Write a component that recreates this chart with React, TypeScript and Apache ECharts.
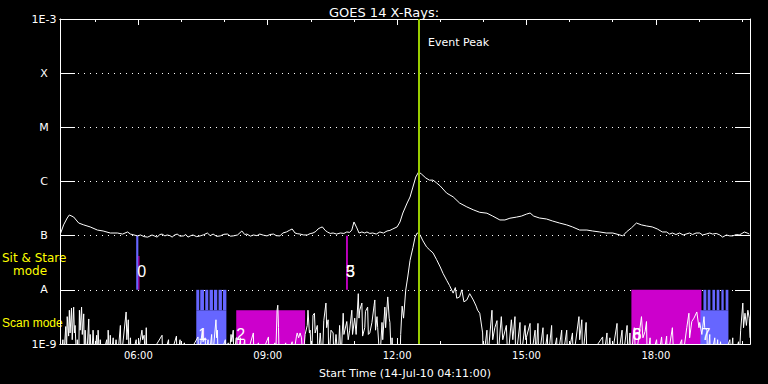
import { useEffect, useRef } from 'react';
import * as echarts from 'echarts';

// time axis in minutes since midnight, 14-Jul-2010
const timeMin = 251; // 04:11
const timeMax = 1211; // 20:11
const majorTicks = [360, 540, 720, 900, 1080];
const hourTicks = [300, 360, 420, 480, 540, 600, 660, 720, 780, 840, 900, 960, 1020, 1080, 1140, 1200];
const yLevelNames = ['1E-9', 'A', 'B', 'C', 'M', 'X', '1E-3'];
const eventPeak = 750; // 12:30

// GOES 14 long channel (1-8 A) [minute, W/m^2]
const longChannel: [number, number][] = [
  [252, 1.12e-7], [256, 1.58e-7], [261, 2.12e-7], [264, 2.41e-7], [270, 2.21e-7], [277, 1.71e-7],
  [284, 1.58e-7], [293, 1.45e-7], [303, 1.27e-7], [311, 1.22e-7], [321, 1.12e-7], [331, 1.12e-7],
  [338, 1.07e-7], [345, 1.17e-7], [349, 1.07e-7], [359, 9.9e-8], [363, 1.03e-7], [368, 9.6e-8],
  [373, 9.4e-8], [379, 1.03e-7], [383, 9.8e-8], [386, 9.4e-8], [390, 1.05e-7], [393, 1.07e-7],
  [397, 9.9e-8], [400, 1.03e-7], [404, 1.0e-7], [407, 9.4e-8], [410, 1.02e-7], [414, 1.07e-7],
  [418, 9.8e-8], [423, 9.9e-8], [426, 1.05e-7], [429, 9.4e-8], [433, 1.0e-7], [436, 1.03e-7],
  [441, 9.6e-8], [446, 9.9e-8], [451, 1.04e-7], [456, 1.12e-7], [460, 1.0e-7], [464, 1.07e-7],
  [469, 9.7e-8], [474, 9.9e-8], [479, 1.06e-7], [484, 1.07e-7], [488, 9.8e-8], [492, 9.9e-8],
  [498, 1.03e-7], [504, 1.22e-7], [508, 1.05e-7], [511, 1.07e-7], [516, 9.8e-8], [520, 1.03e-7],
  [525, 1.0e-7], [529, 1.07e-7], [534, 1.02e-7], [539, 9.9e-8], [543, 1.05e-7], [548, 1.07e-7],
  [552, 1.0e-7], [557, 9.9e-8], [561, 1.12e-7], [566, 1.17e-7], [570, 1.25e-7], [574, 1.33e-7],
  [578, 1.12e-7], [581, 1.09e-7], [585, 1.07e-7], [590, 1.03e-7], [595, 1.03e-7], [599, 1.09e-7],
  [603, 1.12e-7], [607, 1.2e-7], [610, 1.33e-7], [613, 1.4e-7], [616, 1.45e-7], [620, 1.25e-7],
  [623, 1.17e-7], [627, 1.1e-7], [631, 1.12e-7], [636, 1.07e-7], [641, 1.12e-7], [646, 1.1e-7],
  [650, 1.17e-7], [654, 1.15e-7], [657, 1.27e-7], [660, 1.79e-7], [664, 1.39e-7], [667, 1.12e-7],
  [671, 1.17e-7], [675, 1.12e-7], [678, 1.17e-7], [682, 1.1e-7], [686, 1.12e-7], [691, 1.07e-7],
  [696, 1.17e-7], [701, 1.12e-7], [706, 1.22e-7], [710, 1.25e-7], [714, 1.33e-7], [720, 1.45e-7],
  [724, 1.79e-7], [728, 2.62e-7], [734, 4.01e-7], [738, 5.17e-7], [742, 7.9e-7], [746, 1.21e-6],
  [750, 1.5e-6], [754, 1.37e-6], [760, 1.16e-6], [765, 1.06e-6], [770, 1.06e-6], [775, 9.4e-7],
  [780, 8.26e-7], [789, 6.1e-7], [798, 5.2e-7], [807, 4.0e-7], [817, 3.4e-7], [826, 3.0e-7],
  [835, 2.7e-7], [845, 2.6e-7], [853, 2.3e-7], [863, 1.95e-7], [870, 1.95e-7], [877, 2.1e-7],
  [886, 2.2e-7], [893, 2.3e-7], [900, 2.5e-7], [905, 2.62e-7], [910, 2.3e-7], [918, 2.12e-7],
  [928, 2.03e-7], [936, 1.87e-7], [946, 1.71e-7], [956, 1.58e-7], [964, 1.45e-7], [974, 1.27e-7],
  [984, 1.27e-7], [992, 1.22e-7], [1002, 1.17e-7], [1011, 1.12e-7], [1020, 1.12e-7], [1030, 1.03e-7],
  [1034, 9.9e-8], [1039, 1.17e-7], [1046, 1.39e-7], [1053, 1.71e-7], [1060, 1.58e-7], [1067, 1.51e-7],
  [1075, 1.45e-7], [1082, 1.33e-7], [1089, 1.17e-7], [1095, 1.17e-7], [1099, 1.07e-7], [1103, 1.12e-7],
  [1108, 1.05e-7], [1113, 1.12e-7], [1118, 1.03e-7], [1122, 1.07e-7], [1127, 1.12e-7], [1131, 1.05e-7],
  [1136, 1.12e-7], [1141, 1.12e-7], [1145, 1.03e-7], [1150, 1.07e-7], [1155, 1.12e-7], [1159, 1.07e-7],
  [1164, 1.1e-7], [1169, 1.03e-7], [1173, 9.4e-8], [1178, 1.03e-7], [1183, 9.9e-8], [1187, 9.9e-8],
  [1192, 1.05e-7], [1196, 1.03e-7], [1200, 1.1e-7], [1203, 1.17e-7], [1207, 1.12e-7], [1210, 1.07e-7],
];

// GOES 14 short channel (0.5-4 A) [minute, W/m^2]
const shortChannel: [number, number][] = [
  [252, 5e-10], [255, 1.2e-9], [256, 5e-10], [259, 2.1e-9], [260, 6e-10], [261, 3.2e-9], [263, 1.4e-9],
  [264, 4.2e-9], [265, 1.6e-9], [267, 4.6e-9], [268, 1.2e-9], [270, 4.8e-9], [271, 1.6e-9], [272, 2.2e-9],
  [274, 5e-10], [275, 1.2e-9], [277, 5e-10], [278, 4.2e-9], [279, 1.8e-9], [281, 4.8e-9], [282, 1.5e-9],
  [284, 3.6e-9], [285, 5e-10], [286, 1.8e-9], [288, 5e-10], [291, 2.9e-9], [292, 5e-10], [293, 1.5e-9],
  [295, 5e-10], [297, 1.8e-9], [299, 5e-10], [302, 1.45e-9], [303, 5e-10], [304, 1.8e-9], [306, 5e-10],
  [307, 1.2e-9], [309, 5e-10], [316, 1.2e-9], [317, 5e-10], [318, 1.8e-9], [320, 5e-10], [321, 1.45e-9],
  [322, 5e-10], [325, 1.3e-9], [326, 5e-10], [329, 1.2e-9], [331, 5e-10], [335, 2.2e-9], [336, 5e-10],
  [343, 3.9e-9], [344, 1.2e-9], [346, 2.8e-9], [347, 5e-10], [349, 1.3e-9], [350, 5e-10], [357, 1.2e-9],
  [358, 5e-10], [365, 1.8e-9], [366, 1.2e-9], [368, 1.45e-9], [370, 5e-10], [371, 2e-9], [372, 5e-10],
  [393, 1.45e-9], [394, 5e-10], [402, 1.2e-9], [403, 5e-10], [413, 1.4e-9], [414, 5e-10], [418, 1.2e-9],
  [419, 5e-10], [424, 1.05e-9], [425, 5e-10], [443, 1.35e-9], [444, 5e-10], [449, 1.8e-9], [450, 1.1e-9],
  [453, 1.3e-9], [454, 5e-10], [457, 1.2e-9], [458, 5e-10], [462, 1.5e-9], [463, 5e-10], [468, 2.8e-9],
  [469, 1.3e-9], [470, 1.8e-9], [471, 5e-10], [481, 1.2e-9], [482, 5e-10], [485, 1.05e-9], [486, 5e-10],
  [489, 1.5e-9], [490, 1.1e-9], [492, 1.8e-9], [493, 5e-10], [496, 1.3e-9], [497, 1.3e-9], [498, 5e-10],
  [502, 1.3e-9], [503, 5e-10], [508, 1.2e-9], [509, 5e-10], [520, 1.6e-9], [521, 5e-10], [527, 1.05e-9],
  [528, 5e-10], [541, 1.35e-9], [542, 5e-10], [550, 1.05e-9], [551, 5e-10], [553, 4.2e-9], [554, 5.2e-9],
  [555, 2e-9], [556, 5e-10], [565, 1.05e-9], [566, 5e-10], [574, 1.1e-9], [575, 5e-10], [580, 1.4e-9],
  [581, 1.6e-9], [583, 1.3e-9], [585, 1.6e-9], [587, 1.3e-9], [589, 5e-10], [592, 1.5e-9], [595, 2.2e-9],
  [596, 4.2e-9], [598, 1.6e-9], [599, 1.8e-9], [601, 5e-10], [603, 3.4e-9], [605, 3.7e-9], [606, 1.6e-9],
  [609, 2.2e-9], [610, 5e-10], [613, 1.6e-9], [616, 5e-10], [618, 2.7e-9], [621, 5.7e-9], [622, 2e-9],
  [624, 2.8e-9], [625, 5e-10], [628, 1.8e-9], [631, 1.6e-9], [632, 5e-10], [635, 1.5e-9], [638, 5e-10],
  [640, 2.2e-9], [642, 5e-10], [645, 3.7e-9], [646, 1.5e-9], [650, 2.6e-9], [652, 1.2e-9], [654, 1.8e-9],
  [657, 4.2e-9], [658, 1.5e-9], [661, 3e-9], [663, 1.5e-9], [666, 8.5e-9], [667, 3e-9], [668, 4.2e-9],
  [671, 5.7e-9], [672, 1.4e-9], [675, 2e-9], [676, 4e-9], [679, 4.8e-9], [680, 1.5e-9], [682, 1.6e-9],
  [685, 2.5e-9], [688, 5.2e-9], [689, 6.5e-9], [690, 1.8e-9], [692, 3.2e-9], [693, 2e-9], [696, 5e-10],
  [699, 2.5e-9], [700, 1.2e-9], [703, 4.8e-9], [704, 2e-9], [707, 7.4e-9], [709, 3e-9], [710, 2.5e-9],
  [712, 5e-10], [713, 1.3e-9], [714, 5e-10], [724, 5e-10], [725, 1.5e-9], [727, 5e-9], [729, 3e-9],
  [732, 9.9e-9], [735, 1.8e-8], [738, 3.5e-8], [742, 6e-8], [745, 9.4e-8], [748, 1.12e-7], [750, 1.1e-7],
  [752, 1.03e-7], [756, 8e-8], [761, 6.2e-8], [765, 5.5e-8], [770, 4.8e-8], [775, 3.6e-8], [780, 2.64e-8],
  [784, 2e-8], [789, 1.5e-8], [793, 1.2e-8], [798, 8.7e-9], [801, 1.1e-8], [803, 7e-9], [807, 7.4e-9],
  [810, 1e-8], [813, 6e-9], [817, 6.5e-9], [821, 8.5e-9], [826, 6.5e-9], [830, 5e-9], [832, 4.2e-9],
  [835, 3.7e-9], [839, 1.6e-9], [840, 5e-10], [845, 1.8e-9], [846, 5e-10], [852, 4.2e-9], [853, 1.2e-9],
  [856, 2e-9], [859, 2.7e-9], [860, 5e-10], [865, 3.2e-9], [867, 1.2e-9], [872, 2.2e-9], [874, 5e-10],
  [879, 2.8e-9], [881, 1.2e-9], [884, 3.2e-9], [885, 5e-10], [891, 2.5e-9], [892, 5e-10], [898, 2.2e-9],
  [899, 1.2e-9], [905, 2.4e-9], [906, 5e-10], [912, 1.8e-9], [913, 5e-10], [916, 2.4e-9], [917, 5e-10],
  [923, 2e-9], [924, 5e-10], [929, 1.5e-9], [930, 5e-10], [935, 2.2e-9], [936, 5e-10], [942, 1.3e-9],
  [943, 5e-10], [949, 1.8e-9], [950, 5e-10], [956, 1.8e-9], [957, 5e-10], [964, 1.6e-9], [965, 5e-10],
  [973, 3.2e-9], [974, 1.2e-9], [977, 2.8e-9], [978, 5e-10], [983, 2.5e-9], [984, 5e-10], [1006, 1.35e-9],
  [1007, 5e-10], [1012, 1.6e-9], [1013, 5e-10], [1016, 1.3e-9], [1018, 5e-10], [1026, 2.4e-9], [1027, 5e-10],
  [1033, 1.8e-9], [1034, 5e-10], [1040, 2.2e-9], [1041, 5e-10], [1044, 1.6e-9], [1045, 5e-10], [1050, 2e-9],
  [1052, 5e-10], [1060, 3.2e-9], [1062, 1.3e-9], [1065, 1.7e-9], [1067, 2.6e-9], [1068, 5e-10], [1072, 1.3e-9],
  [1073, 5e-10], [1081, 1.2e-9], [1083, 5e-10], [1088, 1.35e-9], [1090, 5e-10], [1095, 1.4e-9], [1096, 5e-10],
  [1103, 2e-9], [1105, 5e-10], [1116, 1.2e-9], [1117, 5e-10], [1123, 2e-9], [1126, 3.7e-9], [1127, 1.3e-9],
  [1130, 2.6e-9], [1133, 3e-9], [1137, 3.9e-9], [1140, 2e-9], [1141, 2.5e-9], [1144, 1.5e-9], [1147, 3.2e-9],
  [1148, 2e-9], [1151, 1.8e-9], [1152, 5e-10], [1155, 1.5e-9], [1156, 5e-10], [1162, 1.3e-9], [1163, 5e-10],
  [1166, 1.2e-9], [1167, 5e-10], [1170, 1.1e-9], [1172, 5e-10], [1183, 1.2e-9], [1184, 5e-10], [1187, 1.3e-9],
  [1188, 5e-10], [1195, 1.1e-9], [1196, 5e-10], [1198, 1.8e-9], [1201, 5.7e-9], [1202, 2e-9], [1204, 3.7e-9],
  [1206, 2.2e-9], [1208, 4.2e-9], [1210, 3e-9], [1211, 1.3e-9],
];

// Observation blocks: [start minute, end minute, low flux, high flux]
const BLUE = '#6666ff';
const MAGENTA = '#cc00cc';
const blockStart = [357, 360, 649, 440.6, 496.2, 1046, 1142];
const blockEnd = [360, 361.5, 651.5, 482.5, 592, 1143.5, 1181];
const blockLow = [1e-8, 1e-8, 1e-8, 1e-9, 1e-9, 1e-9, 1e-9];
const blockHigh = [1e-7, 4.2e-8, 1e-7, 4.2e-9, 4.2e-9, 1e-8, 4.2e-9];
const blockColor = [BLUE, MAGENTA, MAGENTA, BLUE, MAGENTA, MAGENTA, BLUE];
// Scan stripes (4.2e-9 .. 1e-8)
const stripeStart = [440.6, 446.1, 453.1, 459.1, 465.2, 471.6, 477.7, 1146.2, 1152.1, 1158.7, 1164.6, 1171.2, 1177.1];
const stripeEnd = [444.7, 451.3, 457.3, 463.8, 469.8, 476.3, 482.5, 1150.3, 1155.9, 1162.4, 1168.4, 1174.4, 1180.9];
const stripeLow = 4.2e-9;
const stripeHigh = 1e-8;

// Observation labels
const obsLabels = ['0', '1', '2', '3', '5', '6', '8', '7'];
const obsLabelTime = [358.4, 443.4, 496.2, 649, 649, 1047.6, 1047.6, 1143.4];
const obsLabelFlux = [2.2e-8, 1.47e-9, 1.47e-9, 2.2e-8, 2.2e-8, 1.47e-9, 1.47e-9, 1.47e-9];

const fmtTime = (v: number) =>
  `${String(Math.floor(v / 60)).padStart(2, '0')}:${String(Math.round(v % 60)).padStart(2, '0')}`;

const FONT = 'DejaVu Sans';

export default function App() {
  const ref = useRef<HTMLDivElement>(null);
  useEffect(() => {
    if (!ref.current) return;
    const chart = echarts.init(ref.current, undefined, { renderer: 'svg' });

    const rectRender = (colors: string[] | string) => (params: any, api: any) => {
      const p0 = api.coord([api.value(0), api.value(3)]);
      const p1 = api.coord([api.value(1), api.value(2)]);
      const fill = Array.isArray(colors) ? colors[params.dataIndex] : colors;
      return {
        type: 'rect',
        shape: { x: p0[0], y: p0[1], width: p1[0] - p0[0], height: p1[1] - p0[1] },
        style: { fill },
      };
    };

    const baseX = {
      type: 'value',
      min: timeMin,
      max: timeMax,
      splitLine: { show: false },
      axisLine: { show: true, onZero: false, lineStyle: { color: '#fff', width: 1 } },
    };

    const option: any = {
      animation: false,
      backgroundColor: '#000',
      title: {
        text: 'GOES 14 X-Rays:',
        left: 'center',
        top: 1,
        textStyle: { color: '#fff', fontSize: 13, fontWeight: 'normal', fontFamily: FONT },
      },
      grid: { left: 60, right: 18, top: 19, bottom: 40 },
      xAxis: [
        {
          ...baseX,
          position: 'bottom',
          axisTick: { show: true, inside: true, length: 6, customValues: majorTicks, lineStyle: { color: '#fff' } },
          axisLabel: { show: true, customValues: majorTicks, formatter: fmtTime, color: '#fff', fontSize: 10, fontFamily: FONT, margin: 6 },
          name: 'Start Time (14-Jul-10 04:11:00)',
          nameLocation: 'middle',
          nameGap: 24,
          nameTextStyle: { color: '#fff', fontSize: 11, fontFamily: FONT },
        },
        {
          ...baseX,
          position: 'bottom',
          axisTick: { show: true, inside: true, length: 3, customValues: hourTicks, lineStyle: { color: '#fff' } },
          axisLabel: { show: false },
        },
        {
          ...baseX,
          position: 'top',
          axisTick: { show: true, inside: true, length: 6, customValues: majorTicks, lineStyle: { color: '#fff' } },
          axisLabel: { show: false },
        },
        {
          ...baseX,
          position: 'top',
          axisTick: { show: true, inside: true, length: 3, customValues: hourTicks, lineStyle: { color: '#fff' } },
          axisLabel: { show: false },
        },
      ],
      yAxis: [
        {
          type: 'log',
          logBase: 10,
          min: 1e-9,
          max: 1e-3,
          splitNumber: 6,
          position: 'left',
          axisLine: { show: true, onZero: false, lineStyle: { color: '#fff', width: 1 } },
          axisTick: { show: true, inside: true, length: 15, lineStyle: { color: '#fff' } },
          minorTick: { show: false },
          axisLabel: {
            color: '#fff',
            fontSize: 11,
            fontFamily: FONT,
            align: 'center',
            margin: 16,
            formatter: (v: number) => yLevelNames[Math.round(Math.log10(v)) + 9] ?? '',
          },
          splitLine: { show: true, lineStyle: { color: '#fff', width: 1, type: [1, 5] } },
        },
        {
          type: 'log',
          logBase: 10,
          min: 1e-9,
          max: 1e-3,
          splitNumber: 6,
          position: 'right',
          axisLine: { show: true, onZero: false, lineStyle: { color: '#fff', width: 1 } },
          axisTick: { show: true, inside: true, length: 15, lineStyle: { color: '#fff' } },
          axisLabel: { show: false },
          splitLine: { show: false },
        },
      ],
      graphic: [
        { type: 'text', left: 428, top: 37, style: { text: 'Event Peak', fill: '#fff', font: `11px "${FONT}"` } },
        { type: 'text', left: 2, top: 252, style: { text: 'Sit & Stare', fill: '#ffff00', font: `12px "${FONT}"` } },
        { type: 'text', left: 13, top: 265, style: { text: 'mode', fill: '#ffff00', font: `12px "${FONT}"` } },
        { type: 'text', left: 2, top: 317, style: { text: 'Scan mode', fill: '#ffff00', font: '12px "Liberation Sans"' } },
      ],
      series: [
        {
          type: 'custom',
          name: 'blocks',
          silent: true,
          clip: true,
          encode: { x: [0, 1], y: [2, 3] },
          data: blockStart.map((s, i) => [s, blockEnd[i], blockLow[i], blockHigh[i]]),
          renderItem: rectRender(blockColor),
        },
        {
          type: 'custom',
          name: 'stripes',
          silent: true,
          clip: true,
          encode: { x: [0, 1], y: [2, 3] },
          data: stripeStart.map((s, i) => [s, stripeEnd[i], stripeLow, stripeHigh]),
          renderItem: rectRender(BLUE),
        },
        {
          type: 'line',
          name: '1-8 A',
          data: longChannel,
          showSymbol: false,
          symbol: 'none',
          silent: true,
          clip: true,
          lineStyle: { color: '#fff', width: 1 },
          markLine: {
            silent: true,
            symbol: ['none', 'none'],
            label: { show: false },
            lineStyle: { color: '#99cc00', width: 2, type: 'solid' },
            data: [{ xAxis: eventPeak }],
          },
        },
        {
          type: 'line',
          name: '0.5-4 A',
          data: shortChannel,
          showSymbol: false,
          symbol: 'none',
          silent: true,
          clip: true,
          lineStyle: { color: '#fff', width: 1 },
        },
        {
          type: 'custom',
          name: 'labels',
          silent: true,
          encode: { x: 0, y: 1 },
          data: obsLabelTime.map((t, i) => [t, obsLabelFlux[i]]),
          renderItem: (params: any, api: any) => {
            const p = api.coord([api.value(0), api.value(1)]);
            return {
              type: 'text',
              x: p[0],
              y: p[1],
              style: {
                text: obsLabels[params.dataIndex],
                fill: '#fff',
                fontSize: 16,
                fontFamily: 'Liberation Sans',
                align: 'left',
                verticalAlign: 'middle',
              },
            };
          },
        },
      ],
    };
    chart.setOption(option);
    return () => chart.dispose();
  }, []);
  return <div ref={ref} style={{ position: 'absolute', left: 0, top: 0, width: 768, height: 384 }} />;
}
